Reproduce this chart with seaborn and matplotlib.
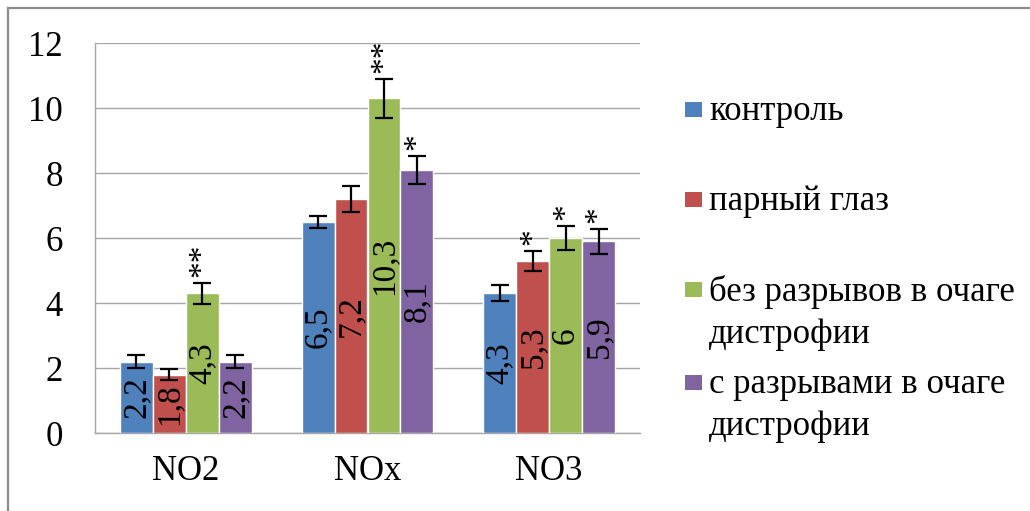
import numpy as np
import pandas as pd
import matplotlib
matplotlib.use("Agg")
import matplotlib.pyplot as plt
from matplotlib.patches import Rectangle
import seaborn as sns

# Nitric oxide metabolites per group
categories = ["NO2", "NOx", "NO3"]
groups = ["контроль", "парный глаз", "без разрывов в очаге\nдистрофии",
          "с разрывами в очаге\nдистрофии"]
control = [2.2, 6.5, 4.3]
paired_eye = [1.8, 7.2, 5.3]
no_breaks = [4.3, 10.3, 6.0]
with_breaks = [2.2, 8.1, 5.9]

control_err = [0.2, 0.18, 0.25]
paired_eye_err = [0.18, 0.4, 0.3]
no_breaks_err = [0.33, 0.6, 0.37]
with_breaks_err = [0.2, 0.43, 0.38]

control_sig = ["", "", ""]
paired_eye_sig = ["", "", "*"]
no_breaks_sig = ["**", "**", "*"]
with_breaks_sig = ["", "*", "*"]

values = [control, paired_eye, no_breaks, with_breaks]
errors = [control_err, paired_eye_err, no_breaks_err, with_breaks_err]
marks = [control_sig, paired_eye_sig, no_breaks_sig, with_breaks_sig]
colors = ["#4F81BD", "#C0504D", "#9BBB59", "#8064A2"]

df = pd.DataFrame({
    "category": np.tile(categories, len(groups)),
    "group": np.repeat(groups, len(categories)),
    "value": np.concatenate(values),
})

sns.set_style("white")
plt.rcParams["font.family"] = "serif"
plt.rcParams["font.serif"] = ["Liberation Serif", "DejaVu Serif"]
plt.rcParams["text.color"] = "black"
plt.rcParams["xtick.labelcolor"] = "black"
plt.rcParams["ytick.labelcolor"] = "black"
FS = 25
FS_VAL = 24
GRID = "#A6A6A6"

fig = plt.figure(figsize=(10.30, 5.11), dpi=100)
ax = fig.add_axes([95 / 1030, 1 - 433 / 511, 545 / 1030, 390 / 511])

sns.barplot(data=df, x="category", y="value", hue="group", order=categories,
            hue_order=groups, palette=colors, width=0.725, errorbar=None,
            saturation=1, legend=False, ax=ax, zorder=3)

for cont, vals, errs, sig in zip(ax.containers, values, errors, marks):
    xs = [p.get_x() + p.get_width() / 2 for p in cont.patches]
    ax.errorbar(xs, vals, yerr=errs, fmt="none", ecolor="black",
                elinewidth=1.6, capsize=6.5, capthick=1.6, zorder=4)
    labels = [f"{v:g}".replace(".", ",") for v in vals]
    ax.bar_label(cont, labels=labels, label_type="center", rotation=90,
                 fontsize=FS_VAL, color="black")
    for x, v, e, s in zip(xs, vals, errs, sig):
        if s:
            ax.annotate(s, (x, v + e), xytext=(0, 4), textcoords="offset points",
                        ha="center", va="bottom", rotation=90, fontsize=FS_VAL,
                        color="black")

ax.set_ylim(0, 12)
ax.set_xlim(-0.5, 2.5)
ax.set_yticks(np.arange(0, 13, 2))
ax.set_xticks([-0.5, 0.5, 1.5, 2.5])
ax.set_xticklabels([])
ax.set_xticks([0, 1, 2], minor=True)
ax.set_xticklabels(categories, minor=True, fontsize=FS)
ax.tick_params(axis="x", which="major", length=7, color=GRID, width=1, direction="out")
ax.tick_params(axis="x", which="minor", length=0, pad=16, labelcolor="black")
ax.tick_params(axis="y", length=9, color=GRID, width=1, pad=14, labelsize=FS,
               labelcolor="black")
ax.yaxis.grid(True, color=GRID, linewidth=1)
ax.set_axisbelow(True)
ax.set_xlabel("")
ax.set_ylabel("")
for side in ["top", "right"]:
    ax.spines[side].set_visible(False)
for side in ["left", "bottom"]:
    ax.spines[side].set_color(GRID)
    ax.spines[side].set_linewidth(1)

# Legend drawn in figure pixels
W, H = 1030, 511
legend_rows = [110, 200, 290, 383]
for label, color, yc in zip(groups, colors, legend_rows):
    fig.add_artist(Rectangle((685 / W, 1 - (yc + 7) / H), 17 / W, 15 / H,
                             transform=fig.transFigure, facecolor=color,
                             edgecolor="none"))
    fig.text(709 / W, 1 - (yc - 15) / H, label, fontsize=FS, va="top",
             ha="left", linespacing=1.35, color="black")

# Chart frame
fig.add_artist(Rectangle((8 / W, -0.1), 1.2, 1 - 8 / H + 0.1,
                         transform=fig.transFigure, facecolor="none",
                         edgecolor="#8C8C8C", linewidth=1.6))

fig.savefig("out.png", dpi=100)
